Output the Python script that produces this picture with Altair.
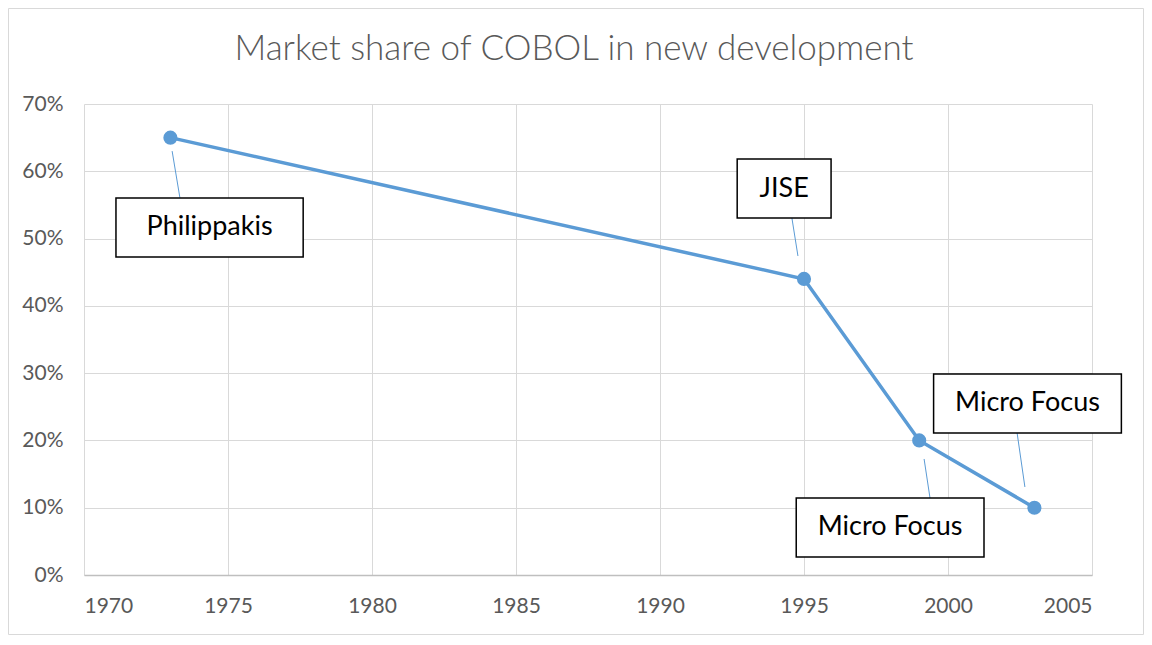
import altair as alt
import pandas as pd

# series
years = [1973, 1995, 1999, 2003]
shares = [0.65, 0.44, 0.20, 0.10]

# annotations
label_text = ["Philippakis", "JISE", "Micro Focus", "Micro Focus"]
label_x = [1974.36, 1994.31, 1997.99, 2002.76]
label_y = [0.5165, 0.5744, 0.0706, 0.2549]
label_halfw = [3.25, 1.63, 3.26, 3.26]
label_halfh = [0.0438, 0.0438, 0.0438, 0.0438]
lead_x1 = [1973.06, 1994.58, 1999.17, 2002.40]
lead_y1 = [0.630, 0.5306, 0.1724, 0.2110]
lead_x2 = [1973.33, 1994.79, 1999.375, 2002.67]
lead_y2 = [0.5607, 0.4741, 0.1144, 0.1308]

x_ticks = [1970, 1975, 1980, 1985, 1990, 1995, 2000, 2005]
y_ticks = [0, 0.1, 0.2, 0.3, 0.4, 0.5, 0.6, 0.7]

FONT = "Lato"
BLUE = "#5b9bd5"
GREY_TXT = "#595959"

df = pd.DataFrame({"year": years, "share": shares})
ann = pd.DataFrame({
    "text": label_text, "lx": label_x, "ly": label_y,
    "hw": label_halfw, "hh": label_halfh,
})
lead = pd.DataFrame({"x1": lead_x1, "y1": lead_y1, "x2": lead_x2, "y2": lead_y2})

xscale = alt.Scale(domain=[1970, 2005], nice=False, zero=False)
yscale = alt.Scale(domain=[0, 0.7], nice=False)

xaxis = alt.Axis(values=x_ticks, format="d", title=None, grid=True, gridColor="#d9d9d9",
                 domainColor="#bfbfbf", domainWidth=1.5, ticks=False, labelPadding=20,
                 labelFont=FONT, labelFontSize=21, labelColor=GREY_TXT)
yaxis = alt.Axis(values=y_ticks, format=".0%", title=None, grid=True, gridColor="#d9d9d9",
                 domain=False, ticks=False, labelPadding=21,
                 labelFont=FONT, labelFontSize=21, labelColor=GREY_TXT)

base = alt.Chart(df)
line = base.mark_line(color=BLUE, strokeWidth=3.5).encode(
    x=alt.X("year:Q", scale=xscale, axis=xaxis),
    y=alt.Y("share:Q", scale=yscale, axis=yaxis),
)
points = base.mark_point(filled=True, color=BLUE, size=200, opacity=1).encode(
    x=alt.X("year:Q", scale=xscale),
    y=alt.Y("share:Q", scale=yscale),
)

leaders = alt.Chart(lead).mark_rule(color=BLUE, strokeWidth=1).encode(
    x=alt.X("x1:Q", scale=xscale), x2="x2:Q",
    y=alt.Y("y1:Q", scale=yscale), y2="y2:Q",
)

boxes = alt.Chart(ann).transform_calculate(
    x0="datum.lx - datum.hw", x1="datum.lx + datum.hw",
    y0="datum.ly - datum.hh", y1="datum.ly + datum.hh",
).mark_rect(fill="white", stroke="black", strokeWidth=1.5).encode(
    x=alt.X("x0:Q", scale=xscale), x2="x1:Q",
    y=alt.Y("y0:Q", scale=yscale), y2="y1:Q",
)
texts = alt.Chart(ann).mark_text(font=FONT, fontSize=27, color="black",
                                 align="center", baseline="middle").encode(
    x=alt.X("lx:Q", scale=xscale),
    y=alt.Y("ly:Q", scale=yscale),
    text="text:N",
)

one = pd.DataFrame({"a": [0]})
border = alt.Chart(one).mark_rect(fillOpacity=0, stroke="#d9d9d9", strokeWidth=1).encode(
    x=alt.value(-75.5), x2=alt.value(1059.5), y=alt.value(-95.5), y2=alt.value(530.5),
)
title = alt.Chart(one).mark_text(font=FONT, fontSize=35, fontWeight=300, color=GREY_TXT,
                                 align="center", baseline="middle").encode(
    x=alt.value(490), y=alt.value(-55), text=alt.value("Market share of COBOL in new development"),
)

chart = alt.layer(border, title, line, points, leaders, boxes, texts).properties(
    width=1008, height=471,
    autosize=alt.AutoSizeParams(type="none"),
    padding={"left": 76, "top": 96, "right": 52, "bottom": 60},
).configure_view(stroke=None)

chart.save("out.html", embed_options={"renderer": "svg", "actions": False})
